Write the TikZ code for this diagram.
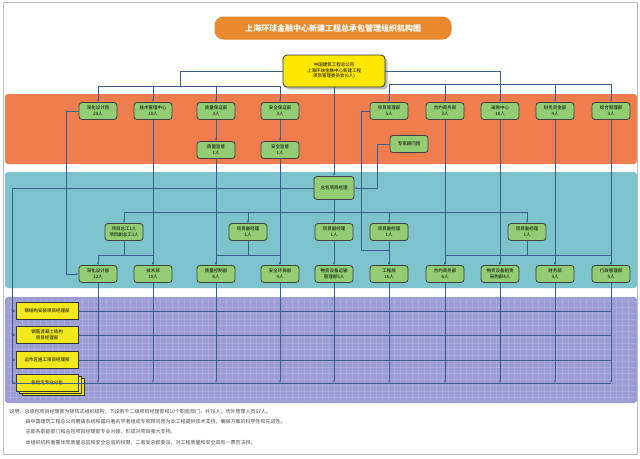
\documentclass[tikz,border=0pt]{standalone}
\usepackage{fontspec}
\setmainfont{Noto Sans CJK SC}
\usetikzlibrary{arrows.meta, positioning, shadows}
\definecolor{bandor}{HTML}{F07D4E}
\definecolor{bandteal}{HTML}{7CC3CB}
\definecolor{bandpur}{HTML}{9C9CD4}
\definecolor{titleor}{HTML}{EA8A2E}
\definecolor{boxgreen}{HTML}{93CC72}
\definecolor{boxyel}{HTML}{F2E81C}
\definecolor{linkblue}{HTML}{3A5F8F}
\tikzset{
  dept/.style={draw=black!75, thick, fill=boxgreen, rounded corners=3pt, minimum width=38pt, minimum height=17pt, inner sep=1pt, font=\fontsize{4.5}{5.5}\selectfont, align=center},
  sub/.style={draw=black!80, thick, fill=boxyel, minimum width=62pt, minimum height=17pt, inner sep=1pt, font=\fontsize{4.5}{5.5}\selectfont, align=center},
  link/.style={draw=linkblue, line width=0.5pt},
  arr/.style={link, -{Latex[length=2.5pt,width=2pt]}}
}
\begin{document}
\begin{tikzpicture}[x=1pt, y=-1pt]
\useasboundingbox (0,0) rectangle (640,458);
\fill[white] (0,0) rectangle (640,458);
\draw[black!25] (3,2) rectangle (637,454);
% bands
\fill[bandor, rounded corners=3pt] (5,94) rectangle (637,164);
\fill[bandteal, rounded corners=3pt] (5,172) rectangle (637,288);
\fill[bandpur, rounded corners=3pt] (5,297) rectangle (637,403);
\foreach \x in {10,16,...,632} \draw[white, opacity=0.15] (\x,299) -- (\x,401);
\foreach \y in {301,307,...,400} \draw[white, opacity=0.15] (7,\y) -- (635,\y);
% title
\node[fill=titleor, rounded corners=9pt, minimum width=237pt, minimum height=23pt, text=white, font=\bfseries\fontsize{8}{9}\selectfont] (title) at (333,28) {上海环球金融中心新建工程总承包管理组织机构图};
% top
\node[draw=black!80, thick, fill=yellow!90!orange, rounded corners=4pt, minimum width=102pt, minimum height=32pt, font=\fontsize{4.5}{5.5}\selectfont, align=center, drop shadow] (top) at (334,71) {中国建筑工程总公司\\上海环球金融中心新建工程\\项目管理委员会(6人)};
% row 1
\node[dept] (d1) at (98,111) {深化设计院\\20人};
\node[dept] (d2) at (153,111) {技术管理中心\\10人};
\node[dept] (d3) at (216,111) {质量保证部\\3人};
\node[dept] (d4) at (280,111) {安全保证部\\3人};
\node[dept] (d5) at (389,111) {项目管理部\\5人};
\node[dept] (d6) at (445,111) {合约商务部\\3人};
\node[dept] (d7) at (500,111) {采购中心\\10人};
\node[dept] (d8) at (555,111) {财务资金部\\4人};
\node[dept] (d9) at (611,111) {综合管理部\\3人};
\node[dept] (qj) at (216,150) {质量监督\\1人};
\node[dept] (aj) at (280,150) {安全监督\\1人};
\node[dept] (zj) at (409,144) {专家顾问团};
% teal
\node[dept, minimum width=40pt, minimum height=23pt] (zb) at (334,188) {总包项目经理};
\node[dept] (zg) at (124,232) {项目总工1人\\项目副总工1人};
\node[dept] (fj1) at (248,232) {项目副经理\\1人};
\node[dept] (fj2) at (334,232) {项目副经理\\1人};
\node[dept] (fj3) at (389,232) {项目副经理\\1人};
\node[dept] (fj4) at (527,232) {项目副经理\\1人};
\node[dept] (r1) at (98,274) {深化设计部\\12人};
\node[dept] (r2) at (153,274) {技术部\\10人};
\node[dept] (r3) at (216,274) {质量控制部\\6人};
\node[dept] (r4) at (280,274) {安全环保部\\4人};
\node[dept] (r5) at (334,274) {物资设备运输\\管理部5人};
\node[dept] (r6) at (389,274) {工程部\\16人};
\node[dept] (r7) at (445,274) {合约商务部\\6人};
\node[dept] (r8) at (500,274) {物资设备租赁\\采购部4人};
\node[dept] (r9) at (555,274) {财务部\\3人};
\node[dept] (r10) at (611,274) {行政管理部\\5人};
% purple
\node[sub] (p1) at (47,311) {钢结构安装项目经理部};
\node[sub] (p2) at (47,335) {钢筋混凝土结构\\项目经理部};
\node[sub] (p3) at (47,360) {运作区施工项目经理部};
\fill[boxyel, draw=black!80] (22,378) rectangle ++(62,17);
\fill[boxyel, draw=black!80] (19,376) rectangle ++(62,17);
\node[sub] (p4) at (47,383) {各指定专业分包};
% links top
\coordinate (busL) at (0,86);
\coordinate (busR) at (0,84);
\draw[link] (top.west) -| (180,86);
\draw[link] (top.east) -| (500,84);
\draw[link] (98,86) -- (280,86);
\draw[link] (389,84) -- (611,84);
\foreach \n in {d1,d2,d3,d4} \draw[arr] (\n.north |- busL) -- (\n.north);
\foreach \n in {d5,d6,d7,d8,d9} \draw[arr] (\n.north |- busR) -- (\n.north);
\draw[arr] (d3) -- (qj);
\draw[arr] (d4) -- (aj);
\draw[arr] (top.south) -- (zb.north);
\draw[arr] (zj.west) -| (377,188) -- (zb.east);
% links teal
\coordinate (busM) at (0,212);
\coordinate (busB) at (0,255);
\draw[link] (zb.south) -- (334,212);
\draw[link] (124,212) -- (527,212);
\foreach \n in {zg,fj1,fj2,fj3,fj4} \draw[arr] (\n.north |- busM) -- (\n.north);
\draw[link] (zg.south) -- (124,255) (98,255) -- (153,255);
\draw[link] (fj1.south) -- (248,255) (216,255) -- (280,255);
\draw[link] (fj4.south) -- (527,255) (445,255) -- (611,255);
\foreach \n in {r1,r2,r3,r4,r7,r8,r9,r10} \draw[arr] (\n.north |- busB) -- (\n.north);
\draw[arr] (fj2) -- (r5);
\draw[arr] (fj3) -- (r6);
\draw[arr] (d1.west) -| (66,274) -- (r1.west);
\draw[arr] (d5.west) -| (361,250) -- (389,250) -- (r6.north);
\foreach \a/\b in {d2/r2,qj/r3,aj/r4,d6/r7,d7/r8,d8/r9,d9/r10}
  \draw[arr] (\a.south) -- (\b.north);
% links purple
\coordinate (busP) at (0,383);
\draw[link] (zb.west) -| (12,383) -- (611,383);
\foreach \n in {p1,p2,p3,p4} \draw[arr] (12,0 |- \n.west) -- (\n.west);
\foreach \n in {r1,r2,r3,r4,r5,r6,r7,r8,r9,r10} \draw[arr] (\n.south) -- (\n.south |- busP);
\foreach \n in {p1,p2,p3} \draw[link] (\n.east) -- (611,0 |- \n.east);
% notes
\begin{scope}[font=\fontsize{5}{6}\selectfont, text=black!70, anchor=west]
\node[anchor=west] (n1) at (6,412) {说明：总承包项目经理部为矩阵式组织结构，下设若干二级项目经理部和10个职能部门，共78人，场外管理人员67人。};
\node[anchor=west] (n2) at (22,422) {由中国建筑工程总公司聘请系统和国内著名学者组成专家顾问团为本工程提供技术支持，确保方案的科学性和先进性。};
\node[anchor=west] (n3) at (22,432) {总部各职能部门和总包项目经理部专业对接，形成对项目强大支持。};
\node[anchor=west] (n4) at (22,443) {本组织机构着重体现质量总监和安全总监的权限，二者受总部委派，对工程质量和安全具有一票否决权。};
\end{scope}
\end{tikzpicture}
\end{document}
